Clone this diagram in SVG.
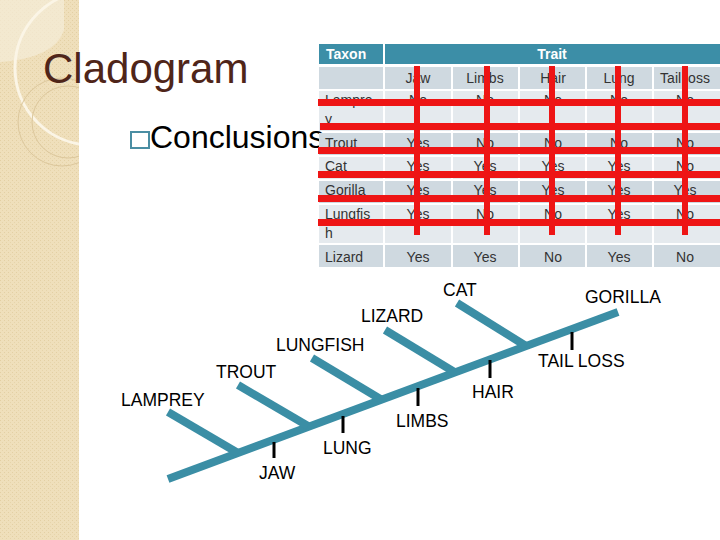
<svg xmlns="http://www.w3.org/2000/svg" width="720" height="540" viewBox="0 0 720 540">
<defs>
<pattern id="tex" width="4" height="4" patternUnits="userSpaceOnUse">
<rect width="4" height="4" fill="#efdfbb"/>
<rect x="0" y="0" width="1" height="1" fill="#e3cfa3"/>
<rect x="2" y="2" width="1" height="1" fill="#e6d4aa"/>
</pattern>
<clipPath id="band"><rect x="0" y="0" width="79" height="540"/></clipPath>
<style>
.lbl{font-family:"Liberation Sans",Arial,sans-serif;font-size:17.5px;fill:#000}
.cell{font-family:"Liberation Sans",Arial,sans-serif;font-size:14px;fill:#333}
.c{text-anchor:middle}
.hd{font-family:"Liberation Sans",Arial,sans-serif;font-size:14px;font-weight:bold;fill:#fff}
.dk{fill:#cfd9e0}
.lt{fill:#e5eaee}
.teal{fill:#3c8ea7}
.br{stroke:#3b8ea5;stroke-width:8;fill:none}
.tick{stroke:#000;stroke-width:3}
.red{fill:#ee1515}
</style>
</defs>
<rect width="720" height="540" fill="#fff"/>
<g id="band-deco" clip-path="url(#band)">
<rect x="0" y="0" width="79" height="540" fill="url(#tex)"/>
<path d="M0,0 H64 V30 Q55,58 0,62 Z" fill="#f5ecd8" opacity="0.7"/>
<circle cx="92" cy="68" r="77" fill="none" stroke="#fbf5e6" stroke-width="3"/>
<circle cx="62" cy="122" r="44" fill="none" stroke="#dcc79c" stroke-width="1"/>
<circle cx="68" cy="122" r="36" fill="none" stroke="#dcc79c" stroke-width="1"/>
</g>
<g id="title">
<text x="43" y="83" font-family="'Liberation Sans',Arial,sans-serif" font-size="42" fill="#4f2519">Cladogram</text>
</g>
<g id="bullet">
<rect x="131" y="132" width="18" height="16" fill="none" stroke="#4a8ea3" stroke-width="2"/>
<text x="150" y="148" font-family="'Liberation Sans',Arial,sans-serif" font-size="32" fill="#000">Conclusions</text>
</g>
<g id="table">
<rect class="teal" x="319" y="44" width="64" height="20"/>
<rect class="teal" x="385" y="44" width="335" height="20"/>
<text class="hd" x="326" y="59">Taxon</text>
<text class="hd c" x="552" y="59">Trait</text>
<g class="dk">
<rect x="319" y="67" width="64" height="22"/><rect x="385" y="67" width="66" height="22"/><rect x="453" y="67" width="65" height="22"/><rect x="520" y="67" width="65" height="22"/><rect x="587" y="67" width="65" height="22"/><rect x="654" y="67" width="66" height="22"/>
<rect x="319" y="133" width="64" height="22"/><rect x="385" y="133" width="66" height="22"/><rect x="453" y="133" width="65" height="22"/><rect x="520" y="133" width="65" height="22"/><rect x="587" y="133" width="65" height="22"/><rect x="654" y="133" width="66" height="22"/>
<rect x="319" y="181" width="64" height="22"/><rect x="385" y="181" width="66" height="22"/><rect x="453" y="181" width="65" height="22"/><rect x="520" y="181" width="65" height="22"/><rect x="587" y="181" width="65" height="22"/><rect x="654" y="181" width="66" height="22"/>
<rect x="319" y="245" width="64" height="22"/><rect x="385" y="245" width="66" height="22"/><rect x="453" y="245" width="65" height="22"/><rect x="520" y="245" width="65" height="22"/><rect x="587" y="245" width="65" height="22"/><rect x="654" y="245" width="66" height="22"/>
</g>
<g class="lt">
<rect x="319" y="91" width="64" height="40"/><rect x="385" y="91" width="66" height="40"/><rect x="453" y="91" width="65" height="40"/><rect x="520" y="91" width="65" height="40"/><rect x="587" y="91" width="65" height="40"/><rect x="654" y="91" width="66" height="40"/>
<rect x="319" y="157" width="64" height="22"/><rect x="385" y="157" width="66" height="22"/><rect x="453" y="157" width="65" height="22"/><rect x="520" y="157" width="65" height="22"/><rect x="587" y="157" width="65" height="22"/><rect x="654" y="157" width="66" height="22"/>
<rect x="319" y="205" width="64" height="38"/><rect x="385" y="205" width="66" height="38"/><rect x="453" y="205" width="65" height="38"/><rect x="520" y="205" width="65" height="38"/><rect x="587" y="205" width="65" height="38"/><rect x="654" y="205" width="66" height="38"/>
</g>
<g class="cell">
<text class="c" x="418" y="83">Jaw</text><text class="c" x="485" y="83">Limbs</text><text class="c" x="553" y="83">Hair</text><text class="c" x="619" y="83">Lung</text><text class="c" x="685" y="83">Tail loss</text>
<text x="325" y="105">Lampre</text><text x="325" y="124">y</text>
<text class="c" x="418" y="105">No</text><text class="c" x="485" y="105">No</text><text class="c" x="553" y="105">No</text><text class="c" x="619" y="105">No</text><text class="c" x="685" y="105">No</text>
<text x="325" y="148">Trout</text>
<text class="c" x="418" y="148">Yes</text><text class="c" x="485" y="148">No</text><text class="c" x="553" y="148">No</text><text class="c" x="619" y="148">No</text><text class="c" x="685" y="148">No</text>
<text x="325" y="171">Cat</text>
<text class="c" x="418" y="171">Yes</text><text class="c" x="485" y="171">Yes</text><text class="c" x="553" y="171">Yes</text><text class="c" x="619" y="171">Yes</text><text class="c" x="685" y="171">No</text>
<text x="325" y="195">Gorilla</text>
<text class="c" x="418" y="195">Yes</text><text class="c" x="485" y="195">Yes</text><text class="c" x="553" y="195">Yes</text><text class="c" x="619" y="195">Yes</text><text class="c" x="685" y="195">Yes</text>
<text x="325" y="219">Lungfis</text><text x="325" y="238">h</text>
<text class="c" x="418" y="219">Yes</text><text class="c" x="485" y="219">No</text><text class="c" x="553" y="219">No</text><text class="c" x="619" y="219">Yes</text><text class="c" x="685" y="219">No</text>
<text x="325" y="262">Lizard</text>
<text class="c" x="418" y="262">Yes</text><text class="c" x="485" y="262">Yes</text><text class="c" x="553" y="262">No</text><text class="c" x="619" y="262">Yes</text><text class="c" x="685" y="262">No</text>
</g>
<g id="red-grid">
<rect class="red" x="318" y="99" width="402" height="7"/>
<rect class="red" x="320" y="123" width="400" height="7"/>
<rect class="red" x="318" y="147" width="402" height="7"/>
<rect class="red" x="318" y="171" width="402" height="7"/>
<rect class="red" x="318" y="195" width="402" height="7"/>
<rect class="red" x="318" y="219" width="402" height="7"/>
<rect class="red" x="414" y="66" width="6" height="169"/>
<rect class="red" x="484" y="66" width="6" height="169"/>
<rect class="red" x="549" y="66" width="6" height="169"/>
<rect class="red" x="615" y="66" width="6" height="169"/>
<rect class="red" x="682" y="66" width="6" height="169"/>
</g>
</g>
<g id="connectors">
<line class="br" x1="168" y1="479" x2="618" y2="312"/>
<line class="br" x1="168" y1="412" x2="238" y2="453"/>
<line class="br" x1="238" y1="385" x2="308" y2="426"/>
<line class="br" x1="312" y1="358" x2="382" y2="400"/>
<line class="br" x1="385" y1="330" x2="456" y2="373"/>
<line class="br" x1="457" y1="303" x2="526" y2="346"/>
<line class="tick" x1="274" y1="442" x2="274" y2="458"/>
<line class="tick" x1="343" y1="416" x2="343" y2="433"/>
<line class="tick" x1="418" y1="388" x2="418" y2="406"/>
<line class="tick" x1="490" y1="360" x2="490" y2="378"/>
<line class="tick" x1="572" y1="332" x2="572" y2="350"/>
</g>
<g id="lamprey"><text class="lbl" x="121" y="406">LAMPREY</text></g>
<g id="trout"><text class="lbl" x="216" y="378">TROUT</text></g>
<g id="lungfish"><text class="lbl" x="276" y="351">LUNGFISH</text></g>
<g id="lizard"><text class="lbl" x="361" y="322">LIZARD</text></g>
<g id="cat"><text class="lbl" x="443" y="296">CAT</text></g>
<g id="gorilla"><text class="lbl" x="585" y="303">GORILLA</text></g>
<g id="jaw"><text class="lbl" x="259" y="479">JAW</text></g>
<g id="lung"><text class="lbl" x="323" y="454">LUNG</text></g>
<g id="limbs"><text class="lbl" x="396" y="427">LIMBS</text></g>
<g id="hair"><text class="lbl" x="472" y="398">HAIR</text></g>
<g id="tail-loss"><text class="lbl" x="538" y="367">TAIL LOSS</text></g>
</svg>
